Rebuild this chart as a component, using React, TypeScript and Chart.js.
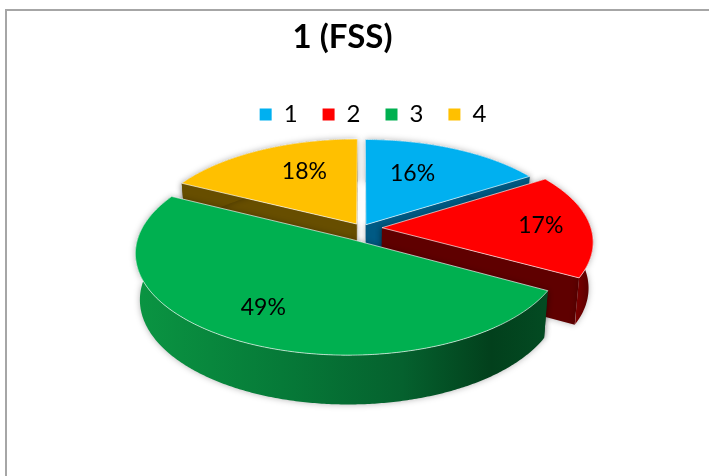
import React, { useEffect, useRef } from "react";
import { Chart, registerables } from "chart.js";

Chart.register(...registerables);

const chartTitle = "1 (FSS)";
const categories = ["1", "2", "3", "4"];
const shares = [16, 17, 49.4, 17.6];
const sliceColors = ["#00B0F0", "#FF0000", "#00B050", "#FFC000"];
const edgeColors = ["#005A84", "#5F0000", "#02401C", "#674E00"];
const explode = [8, 20, 26, 10];
const labelFraction = [0.6, 0.76, 0.74, 0.63];
const labelTurn = [-5, 2, 2, 6];
const paintOrder = [3, 0, 1, 2];

const FONT = "Lato, 'Open Sans', sans-serif";
const view = { cx: 362, cy: 228, fx: 209, fy: 97.5, persp: 0.134, depth: 45.5, shrink: 0.98, lowY: 1.03 };

function project(u: number, v: number, lower: boolean) {
  const w = 1 - view.persp * v;
  return {
    x: view.cx + (view.fx * u * (lower ? view.shrink : 1)) / w,
    y: view.cy + (lower ? view.depth : 0) + (view.fy * v * (lower ? view.lowY : 1)) / w,
  };
}

const rimStops: Array<Array<[number, string]>> = [
  [[0, "#005A84"], [1, "#005A84"]],
  [[0, "#A86B6B"], [0.12, "#7A0000"], [1, "#5A0000"]],
  [[0, "#0A9442"], [0.35, "#067A38"], [0.65, "#05612E"], [0.87, "#02401C"], [1, "#034A22"]],
  [[0, "#674E00"], [1, "#674E00"]],
];

const pie3d = {
  id: "pie3d",
  beforeDraw(chart: any) {
    const { ctx } = chart;
    ctx.save();
    ctx.strokeStyle = "#A6A6A6";
    ctx.lineWidth = 2;
    ctx.beginPath();
    ctx.moveTo(6, 476);
    ctx.lineTo(6, 10);
    ctx.lineTo(709, 10);
    ctx.stroke();
    ctx.restore();
  },
  afterLayout(chart: any) {
    chart.titleBlock.left -= 12;
    chart.titleBlock.right -= 12;
    chart.legend.left += 18.5;
    chart.legend.right += 18.5;
  },
  beforeDatasetDraw() {
    return false;
  },
  afterDatasetsDraw(chart: any) {
    const { ctx } = chart;
    const arcs = chart.getDatasetMeta(0).data;
    const geo = arcs.map((arc: any, i: number) => {
      const a0 = arc.startAngle + Math.PI / 2;
      const a1 = arc.endAngle + Math.PI / 2;
      const mid = (a0 + a1) / 2;
      const u0 = ((arc.options.offset as number) / view.fx) * Math.sin(mid);
      const v0 = (-(arc.options.offset as number) / view.fx) * Math.cos(mid);
      const at = (t: number, r: number) => ({ u: u0 + r * Math.sin(t), v: v0 - r * Math.cos(t) });
      return { a0, a1, mid, u0, v0, at, i };
    });

    const rim = (g: any, lower: boolean) => {
      const pts = [];
      const n = Math.ceil((g.a1 - g.a0) / 0.01);
      for (let k = 0; k <= n; k++) {
        const p = g.at(g.a0 + ((g.a1 - g.a0) * k) / n, 1);
        pts.push(project(p.u, p.v, lower));
      }
      return pts;
    };
    const poly = (pts: Array<{ x: number; y: number }>) => {
      ctx.beginPath();
      pts.forEach((p, k) => (k ? ctx.lineTo(p.x, p.y) : ctx.moveTo(p.x, p.y)));
      ctx.closePath();
    };

    paintOrder.forEach((idx) => {
      const g = geo[idx];
      const topRim = rim(g, false);
      const lowRim = rim(g, true);
      const apexT = project(g.u0, g.v0, false);
      const apexL = project(g.u0, g.v0, true);

      ctx.save();
      ctx.shadowColor = "rgba(0,0,0,0.3)";
      ctx.shadowBlur = 6;
      ctx.fillStyle = edgeColors[idx];
      poly([apexT, topRim[0], lowRim[0], apexL]);
      ctx.fill();
      poly([apexT, topRim[topRim.length - 1], lowRim[lowRim.length - 1], apexL]);
      ctx.fill();

      const front = lowRim.filter((_: any, k: number) => {
        const t = g.a0 + ((g.a1 - g.a0) * k) / (lowRim.length - 1);
        return -Math.cos(t) > 0;
      });
      const xs = (front.length ? front : lowRim).map((p: any) => p.x);
      const grad = ctx.createLinearGradient(Math.min(...xs), 0, Math.max(...xs), 0);
      rimStops[idx].forEach(([o, c]) => grad.addColorStop(o, c));
      ctx.fillStyle = grad;
      poly([...topRim, ...lowRim.slice().reverse()]);
      ctx.fill();
      ctx.restore();

      ctx.fillStyle = sliceColors[idx];
      ctx.strokeStyle = "rgba(255,255,255,0.65)";
      ctx.lineWidth = 1;
      poly([apexT, ...topRim]);
      ctx.fill();
      ctx.stroke();
    });

    ctx.save();
    ctx.fillStyle = "#000";
    ctx.font = `23px ${FONT}`;
    ctx.textAlign = "center";
    ctx.textBaseline = "middle";
    geo.forEach((g: any) => {
      const p = g.at(g.mid + (labelTurn[g.i] * Math.PI) / 180, labelFraction[g.i]);
      const s = project(p.u, p.v, false);
      ctx.fillText(`${Math.round(shares[g.i])}%`, s.x, s.y - 2);
    });
    ctx.restore();
  },
};

export default function App() {
  const ref = useRef<HTMLCanvasElement>(null);
  useEffect(() => {
    const chart = new Chart(ref.current as HTMLCanvasElement, {
      type: "pie",
      data: {
        labels: categories,
        datasets: [{ data: shares, backgroundColor: sliceColors, borderWidth: 0, offset: explode }],
      },
      options: {
        responsive: false,
        animation: false,
        layout: { padding: { top: 0 } },
        plugins: {
          tooltip: { enabled: false },
          title: {
            display: true,
            text: chartTitle,
            color: "#000",
            font: { family: FONT, size: 33, weight: "bold" },
            padding: { top: 18, bottom: 20 },
          },
          legend: {
            display: true,
            position: "top",
            labels: {
              color: "#000",
              font: { family: FONT, size: 24 },
              boxWidth: 12,
              boxHeight: 12,
              padding: 25,
            },
          },
        },
      },
      plugins: [pie3d],
    } as any);
    return () => chart.destroy();
  }, []);
  return (
    <div style={{ position: "absolute", left: 0, top: 0, width: 709, height: 476, background: "#fff" }}>
      <canvas ref={ref} width={709} height={476} style={{ display: "block" }} />
    </div>
  );
}
